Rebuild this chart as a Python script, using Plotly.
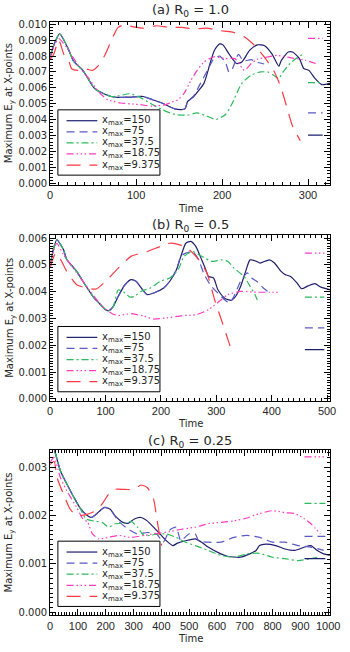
import plotly.graph_objects as go
from plotly.subplots import make_subplots

# ---------------- data ----------------
NAMES = ["150", "75", "37.5", "18.75", "9.375"]
PANEL_TITLES = ["(a) R<sub>0</sub> = 1.0", "(b) R<sub>0</sub> = 0.5", "(c) R<sub>0</sub> = 0.25"]

# Panel (a) R0 = 1.0
A150_t = [0, 5, 11, 21, 27, 38, 45, 51, 56, 71, 79, 93, 108, 119, 130, 145, 153, 157, 160, 167, 179, 186, 191,
          197, 201, 208, 217, 223, 232, 241, 249, 258, 266, 269, 277, 282, 290, 295, 301, 308, 316, 326]
A150_e = [0.0080, 0.0088, 0.0094, 0.00845, 0.0077, 0.0071, 0.0065, 0.0060, 0.0058, 0.00546, 0.0054, 0.00542,
          0.00546, 0.00526, 0.00505, 0.00468, 0.00464, 0.0047, 0.00515, 0.00546, 0.0063, 0.00753, 0.00835,
          0.00876, 0.0087, 0.00814, 0.00753, 0.00763, 0.00835, 0.0087, 0.00866, 0.00814, 0.00736, 0.00773,
          0.00825, 0.00825, 0.00784, 0.00722, 0.0071, 0.0066, 0.0062, 0.0063]
A75_t = [0, 5, 11, 21, 27, 38, 45, 51, 56, 71, 79, 93, 108, 119, 130, 145, 153, 157, 160, 167, 175, 183, 190,
         197, 204, 208, 212, 219, 225, 234, 241, 249]
A75_e = [0.0080, 0.0088, 0.0094, 0.00845, 0.0077, 0.0071, 0.0065, 0.0060, 0.0058, 0.00546, 0.0054, 0.00542,
         0.00546, 0.00526, 0.00505, 0.00468, 0.00464, 0.0047, 0.00515, 0.0055, 0.0063, 0.0071, 0.0078, 0.0080,
         0.0076, 0.0070, 0.0072, 0.0081, 0.0077, 0.00777, 0.0076, 0.0075]
A37_t = [0, 5, 11, 21, 27, 38, 45, 51, 56, 71, 79, 93, 104, 116, 130, 145, 160, 171, 182, 193, 204, 212, 223,
         234, 245, 253, 260, 266, 271, 279, 286, 295]
A37_e = [0.0080, 0.0088, 0.0094, 0.00845, 0.0077, 0.0071, 0.0065, 0.0060, 0.0058, 0.00546, 0.0055, 0.00563,
         0.00542, 0.00505, 0.00464, 0.00433, 0.00429, 0.00443, 0.00423, 0.00402, 0.00433, 0.00505, 0.00629,
         0.0068, 0.0070, 0.0070, 0.0068, 0.0066, 0.0070, 0.00753, 0.00784, 0.00814]
A18_t = [0, 5, 10, 19, 34, 45, 56, 67, 82, 93, 104, 119, 134, 141, 149, 156, 164, 171, 179, 190, 204, 215, 226,
         234, 241, 253, 264, 279, 297, 312]
A18_e = [0.0078, 0.0087, 0.0091, 0.00856, 0.0073, 0.0066, 0.00577, 0.00526, 0.00505, 0.0050, 0.00495, 0.00485,
         0.00495, 0.0051, 0.00526, 0.00567, 0.0065, 0.0071, 0.00763, 0.00794, 0.00784, 0.00784, 0.0071, 0.00753,
         0.0078, 0.00794, 0.00804, 0.0079, 0.00773, 0.00748]
A9_t = [0, 4, 10, 16, 21, 25, 32, 41, 49, 56, 64, 73, 79, 86, 97, 108, 123, 138, 153, 167, 182, 197, 212, 226,
        238, 249, 260, 268, 275, 282, 291]
A9_e = [0.0078, 0.0081, 0.0090, 0.0081, 0.0078, 0.0072, 0.0071, 0.0072, 0.0071, 0.0074, 0.0081, 0.0092, 0.0098,
        0.00996, 0.00983, 0.00975, 0.0099, 0.0098, 0.0098, 0.0097, 0.00975, 0.0096, 0.0095, 0.0092, 0.00866,
        0.00794, 0.0071, 0.0061, 0.00485, 0.0036, 0.00268]
A_SEG_t = [300, 317]
A_SEG_e = [0.00303, 0.00443, 0.00633, 0.00911]   # 150, 75, 37.5, 18.75

# Panel (b) R0 = 0.5
B150_t = [0, 6, 12, 24, 30, 48, 59, 77, 88, 100, 106, 114, 123, 135, 146, 155, 167, 175, 187, 205, 216, 228, 236,
          245, 254, 263, 271, 280, 286, 295, 303, 315, 327, 335, 344, 353, 361, 373, 379, 396, 405, 417, 425,
          434, 446, 454, 466, 478, 489, 506]
B150_e = [0.0050, 0.0056, 0.00594, 0.00557, 0.0052, 0.00476, 0.00439, 0.00383, 0.00358, 0.00333, 0.00329,
          0.00345, 0.00383, 0.00426, 0.00445, 0.00439, 0.00407, 0.00389, 0.00395, 0.00414, 0.00439, 0.00482,
          0.00532, 0.00581, 0.00588, 0.00569, 0.00532, 0.00488, 0.00457, 0.00451, 0.00407, 0.00376, 0.00368,
          0.00383, 0.0042, 0.00476, 0.00519, 0.00513, 0.00507, 0.00519, 0.00507, 0.00476, 0.00463, 0.00457,
          0.00432, 0.00411, 0.00422, 0.0043, 0.00417, 0.00407]
B75_t = [0, 6, 12, 24, 30, 48, 59, 77, 88, 100, 106, 114, 123, 135, 146, 155, 167, 175, 187, 205, 216, 228, 236,
         245, 257, 268, 277, 289, 297, 315, 324, 332, 344, 356, 364, 373, 385, 393]
B75_e = [0.0050, 0.0056, 0.00594, 0.00557, 0.0052, 0.00476, 0.00439, 0.00383, 0.00358, 0.00333, 0.00329,
         0.00345, 0.00383, 0.00426, 0.00445, 0.00439, 0.00407, 0.00389, 0.00395, 0.00414, 0.00439, 0.00482,
         0.00532, 0.00544, 0.0055, 0.0052, 0.0047, 0.00426, 0.00407, 0.0037, 0.00358, 0.00383, 0.00439, 0.0047,
         0.00451, 0.00439, 0.00414, 0.00401]
B37_t = [0, 6, 12, 24, 30, 48, 59, 77, 88, 100, 106, 114, 123, 135, 144, 152, 164, 181, 199, 216, 231, 242, 257,
         274, 292, 309, 321, 332, 350, 361, 370, 376]
B37_e = [0.0050, 0.0056, 0.00594, 0.00557, 0.0052, 0.00476, 0.00439, 0.00383, 0.00358, 0.00333, 0.00329,
         0.00345, 0.00407, 0.00395, 0.0038, 0.00382, 0.00401, 0.00414, 0.00439, 0.00451, 0.00482, 0.00532,
         0.0055, 0.00532, 0.00513, 0.00519, 0.00513, 0.00488, 0.00457, 0.0042, 0.00389, 0.00358]
B18_t = [0, 6, 12, 24, 48, 77, 94, 112, 123, 146, 170, 187, 210, 239, 263, 286, 309, 321, 344, 373, 396, 414]
B18_e = [0.0049, 0.0055, 0.00581, 0.00538, 0.0047, 0.00389, 0.00345, 0.00318, 0.00311, 0.00318, 0.00308,
         0.00298, 0.00302, 0.00311, 0.00314, 0.00333, 0.0037, 0.00389, 0.00401, 0.00398, 0.00398, 0.00398]
B9_t = [0, 10, 19, 30, 48, 65, 83, 100, 123, 146, 175, 199, 216, 234, 251, 268, 283, 297, 309, 321, 328]
B9_e = [0.0049, 0.00544, 0.0052, 0.00476, 0.00426, 0.00414, 0.0041, 0.00439, 0.00488, 0.00532, 0.0055, 0.00569,
        0.00581, 0.00575, 0.00557, 0.0052, 0.0047, 0.0037, 0.00296, 0.00221, 0.00178]
B_SEG_t = [460, 495]
B_SEG_e = [0.00184, 0.00265, 0.0038, 0.00544]

# Panel (c) R0 = 0.25
C150_t = [0, 8, 20, 37, 60, 83, 106, 129, 147, 164, 181, 196, 216, 233, 262, 280, 303, 326, 349, 372, 395, 418,
          441, 458, 487, 522, 545, 568, 614, 638, 684, 718, 741, 753, 776, 811, 845, 880, 915, 938, 961, 984, 1007]
C150_e = [0.0036, 0.0035, 0.00326, 0.00292, 0.00265, 0.0024, 0.00217, 0.00202, 0.00196, 0.00202, 0.00211,
          0.00217, 0.00213, 0.0020, 0.00186, 0.00184, 0.00193, 0.00196, 0.00189, 0.00176, 0.00162, 0.00148,
          0.00138, 0.00143, 0.00148, 0.00152, 0.00145, 0.00135, 0.00121, 0.00116, 0.00114, 0.00121, 0.00128,
          0.00138, 0.00141, 0.00138, 0.00131, 0.00128, 0.00135, 0.00138, 0.00128, 0.00121, 0.00118]
C75_t = [0, 8, 20, 37, 60, 83, 106, 129, 147, 164, 181, 196, 216, 245, 280, 314, 349, 383, 407, 430, 453, 470,
         499, 522, 534, 568, 614, 661, 707, 753, 799, 845, 892, 938, 984]
C75_e = [0.0036, 0.0035, 0.00326, 0.00292, 0.00265, 0.0024, 0.00217, 0.00202, 0.00196, 0.00202, 0.00211,
         0.00217, 0.00213, 0.00189, 0.00172, 0.00162, 0.00165, 0.00162, 0.00145, 0.0017, 0.00176, 0.00148,
         0.00162, 0.00162, 0.00148, 0.00145, 0.00145, 0.00155, 0.00159, 0.00155, 0.00145, 0.00145, 0.00138,
         0.00135, 0.00128]
C37_t = [0, 8, 20, 37, 60, 83, 106, 129, 164, 187, 210, 233, 268, 291, 314, 337, 360, 383, 418, 453, 487, 522,
         568, 614, 661, 707, 753, 799, 845, 892, 938, 961]
C37_e = [0.0036, 0.0035, 0.00326, 0.00292, 0.00265, 0.0024, 0.00217, 0.00193, 0.00188, 0.00186, 0.00176,
         0.00183, 0.00184, 0.00188, 0.00176, 0.00159, 0.00159, 0.00162, 0.00162, 0.00155, 0.00145, 0.00138,
         0.00128, 0.00118, 0.00114, 0.00121, 0.00122, 0.00114, 0.00111, 0.00107, 0.00111, 0.00114]
C18_t = [0, 14, 37, 60, 95, 118, 135, 152, 176, 210, 245, 291, 337, 383, 430, 476, 522, 568, 614, 661, 707, 753,
         799, 845, 880, 915, 938, 972]
C18_e = [0.0031, 0.0032, 0.00278, 0.00251, 0.00217, 0.00193, 0.00186, 0.00162, 0.00152, 0.00155, 0.00159,
         0.00155, 0.00159, 0.00163, 0.00167, 0.00172, 0.00176, 0.00183, 0.00186, 0.00189, 0.00195, 0.00204,
         0.0021, 0.00206, 0.00204, 0.00193, 0.00183, 0.00162]
C9_t = [0, 14, 25, 48, 72, 95, 129, 164, 187, 210, 233, 268, 303, 326, 349, 372, 383, 395, 401]
C9_e = [0.00305, 0.00312, 0.00278, 0.00244, 0.00213, 0.0020, 0.00202, 0.0021, 0.00224, 0.00244, 0.00254,
        0.00254, 0.00254, 0.00263, 0.00258, 0.00234, 0.00196, 0.00155, 0.00138]
C_SEG_t = [915, 990]
C_SEG_e = [0.00111, 0.00157, 0.00225, 0.00321]

# ---------------- styling ----------------
COLORS = ["#1e1e6e", "#5a5ac4", "#2cbb5a", "#ff3cc0", "#ff3a44"]
DASHES = ["solid", "8px,5px", "7px,3px,2px,3px", "7px,3px,1.5px,2.5px,1.5px,2.5px,1.5px,3px", "14px,9px"]
FONT = "DejaVu Sans"
XFONT = "Liberation Sans"
TXT = "#262626"

panels = [
    dict(series=[(A150_t, A150_e), (A75_t, A75_e), (A37_t, A37_e), (A18_t, A18_e), (A9_t, A9_e)],
         seg_t=A_SEG_t, seg_e=A_SEG_e, xr=[0, 326], yr=[-0.0001, 0.01015], ydt=0.001, ymin=0.0002, xmin=10),
    dict(series=[(B150_t, B150_e), (B75_t, B75_e), (B37_t, B37_e), (B18_t, B18_e), (B9_t, B9_e)],
         seg_t=B_SEG_t, seg_e=B_SEG_e, xr=[0, 506], yr=[-0.00007, 0.0061], ydt=0.001, ymin=0.0001, xmin=10),
    dict(series=[(C150_t, C150_e), (C75_t, C75_e), (C37_t, C37_e), (C18_t, C18_e), (C9_t, C9_e)],
         seg_t=C_SEG_t, seg_e=C_SEG_e, xr=[0, 1008], yr=[-0.00006, 0.00335], ydt=0.001, ymin=0.0001, xmin=10),
]

W, H = 350, 652
XL, XR = 49, 340
PLOT_Y = [(19, 184), (235, 402), (452, 619)]
TITLE_Y = [8, 225, 443]
TIME_Y = [208, 425, 642]

fig = make_subplots(rows=3, cols=1)

for p, panel in enumerate(panels):
    row = p + 1
    for k, (t, e) in enumerate(panel["series"]):
        fig.add_trace(go.Scatter(x=t, y=e, mode="lines", showlegend=False,
                                 line=dict(color=COLORS[k], width=1.2, dash=DASHES[k], shape="spline",
                                           smoothing=0.6)), row=row, col=1)
    for k, val in enumerate(panel["seg_e"]):
        fig.add_trace(go.Scatter(x=panel["seg_t"], y=[val, val], mode="lines", showlegend=False,
                                 line=dict(color=COLORS[k], width=1.2, dash=DASHES[k])), row=row, col=1)

    y0, y1 = PLOT_Y[p]
    axis_common = dict(showline=True, linecolor="black", linewidth=1, mirror="allticks", ticks="inside",
                       ticklen=6, tickcolor="black", showgrid=False, zeroline=False,
                       ticklabeloverflow="allow")
    fig.update_xaxes(range=panel["xr"], tickmode="linear", tick0=0, dtick=100,
                     domain=[XL / W, XR / W],
                     tickfont=dict(family=XFONT, size=11, color=TXT),
                     minor=dict(ticks="inside", ticklen=3, dtick=panel["xmin"], tickcolor="black"),
                     **axis_common, row=row, col=1)
    fig.update_yaxes(range=panel["yr"], tickmode="linear", tick0=0, dtick=panel["ydt"], tickformat=".3f",
                     domain=[1 - y1 / H, 1 - y0 / H],
                     tickfont=dict(family=FONT, size=10, color=TXT),
                     minor=dict(ticks="inside", ticklen=3, dtick=panel["ymin"], tickcolor="black"),
                     **axis_common, row=row, col=1)

    # panel title, axis titles
    fig.add_annotation(text=PANEL_TITLES[p], x=(XL + XR) / 2 / W, y=1 - TITLE_Y[p] / H, xref="paper",
                       yref="paper", showarrow=False, xanchor="center", yanchor="middle",
                       font=dict(family=FONT, size=13, color=TXT))
    fig.add_annotation(text="Time", x=(XL + XR) / 2 / W, y=1 - TIME_Y[p] / H, xref="paper", yref="paper",
                       showarrow=False, xanchor="center", yanchor="middle",
                       font=dict(family=FONT, size=10, color=TXT))
    fig.add_annotation(text="Maximum E<sub>y</sub> at X-points", x=7 / W, y=1 - (y0 + y1) / 2 / H,
                       xref="paper", yref="paper", showarrow=False, textangle=-90, xanchor="center",
                       yanchor="middle", font=dict(family=FONT, size=10, color=TXT))

    # legend box (drawn in the panel)
    box_top = y0 + (89 if p == 0 else 92)
    box_bot = box_top + 66
    fig.add_shape(type="rect", xref="paper", yref="paper", x0=57 / W, x1=163 / W,
                  y0=1 - box_bot / H, y1=1 - box_top / H, line=dict(color="black", width=1),
                  fillcolor="white", layer="above")
    for k, name in enumerate(NAMES):
        yy = 1 - (box_top + 11 + 11.2 * k) / H
        fig.add_shape(type="line", xref="paper", yref="paper", x0=66 / W, x1=98 / W, y0=yy, y1=yy,
                      line=dict(color=COLORS[k], width=1.2, dash=DASHES[k]), layer="above")
        fig.add_annotation(text="x<sub>max</sub>=" + name, x=101 / W, y=yy, xref="paper", yref="paper",
                           showarrow=False, xanchor="left", yanchor="middle",
                           font=dict(family=FONT, size=10, color=TXT))

fig.update_layout(width=W, height=H, margin=dict(l=0, r=0, t=0, b=0), paper_bgcolor="white",
                  plot_bgcolor="white", showlegend=False)

fig.write_html("out.html", config=dict(displayModeBar=False),
               post_script="document.body.style.margin='0px';document.body.style.overflow='hidden';")
